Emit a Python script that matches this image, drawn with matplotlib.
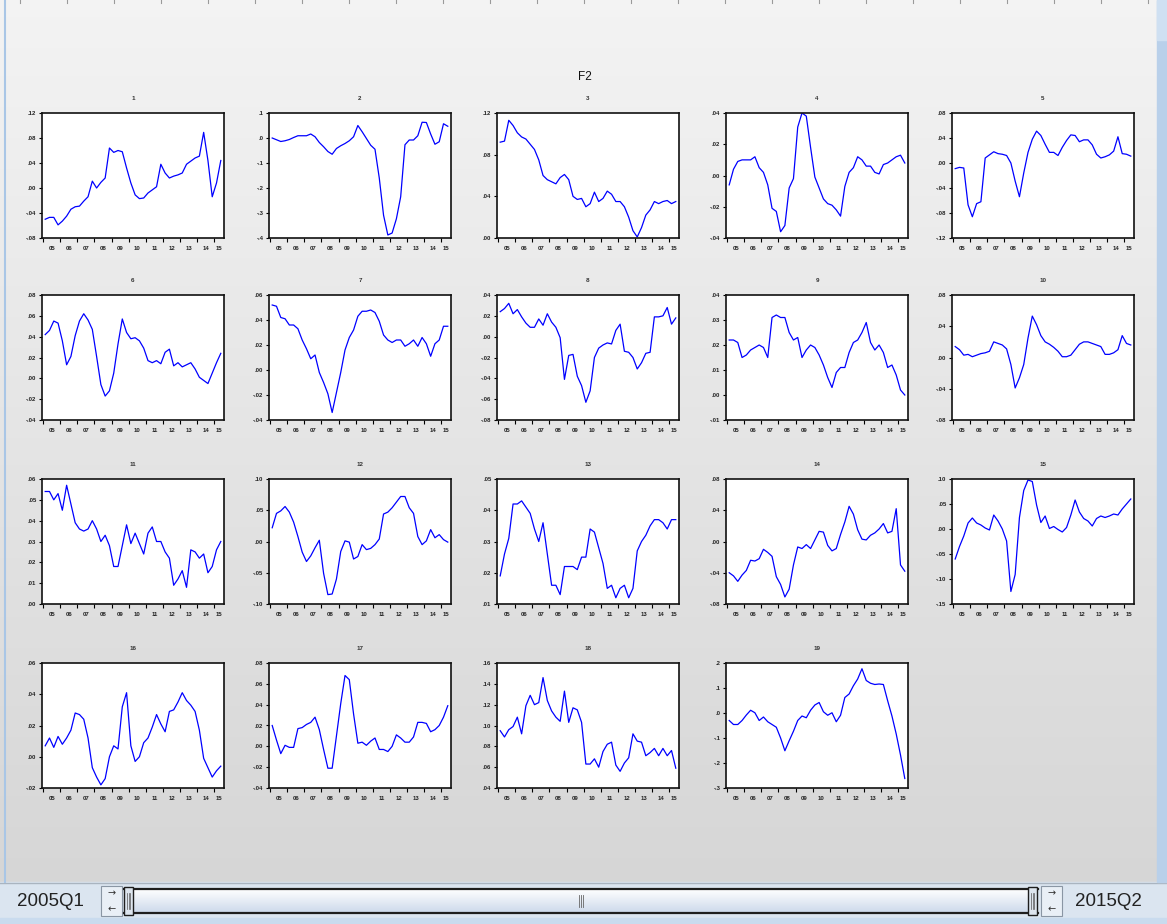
import numpy as np
import matplotlib
matplotlib.use("Agg")
import matplotlib.pyplot as plt
from matplotlib.patches import Rectangle

# Quarterly observations 2005Q1 .. 2015Q2 (42 quarters) for each F2 component
years = ["05", "06", "07", "08", "09", "10", "11", "12", "13", "14", "15"]
sample_start = "2005Q1"
sample_end = "2015Q2"
panel_titles = [str(k) for k in range(1, 20)]

f2_1 = [-.050, -.047, -.047, -.059, -.053, -.045, -.034, -.030, -.029, -.021, -.014, .011, .000, .009,
        .016, .064, .057, .060, .058, .032, .008, -.011, -.017, -.016, -.008, -.003, .002, .038,
        .024, .016, .019, .021, .024, .038, .043, .048, .051, .089, .044, -.014, .008, .044]
f2_2 = [.000, -.007, -.014, -.011, -.006, .002, .009, .009, .009, .016, .005, -.018, -.035, -.054,
        -.065, -.042, -.031, -.022, -.011, .005, .050, .025, -.002, -.029, -.045, -.160, -.309, -.388,
        -.380, -.323, -.235, -.027, -.008, -.008, .009, .063, .062, .016, -.025, -.015, .057, .047]
f2_3 = [.092, .093, .113, .108, .101, .097, .095, .090, .085, .075, .060, .056, .054, .052,
        .058, .061, .056, .040, .037, .038, .030, .033, .044, .035, .038, .045, .042, .035,
        .035, .030, .020, .007, .001, .010, .022, .027, .035, .033, .035, .036, .033, .035]
f2_4 = [-.006, .004, .009, .010, .010, .010, .012, .005, .002, -.006, -.021, -.023, -.036, -.032,
        -.008, -.002, .031, .040, .038, .018, -.001, -.008, -.015, -.018, -.019, -.022, -.026, -.007,
        .002, .005, .012, .010, .006, .006, .002, .001, .007, .008, .010, .012, .013, .008]
f2_5 = [-.009, -.007, -.008, -.067, -.086, -.065, -.062, .008, .013, .018, .015, .014, .012, .000,
        -.029, -.054, -.016, .017, .038, .051, .044, .030, .017, .017, .012, .025, .036, .045,
        .044, .034, .037, .037, .029, .014, .008, .010, .013, .019, .042, .015, .014, .011]
f2_6 = [.042, .046, .055, .053, .036, .013, .021, .041, .055, .062, .056, .047, .021, -.006,
        -.017, -.012, .005, .033, .057, .044, .038, .039, .036, .029, .017, .015, .017, .014,
        .025, .028, .012, .015, .011, .013, .015, .009, .001, -.002, -.005, .005, .015, .024]
f2_7 = [.052, .051, .042, .041, .036, .036, .033, .024, .017, .009, .012, -.002, -.010, -.019,
        -.034, -.018, -.002, .016, .026, .032, .043, .047, .047, .048, .046, .039, .028, .024,
        .022, .024, .024, .019, .021, .024, .019, .026, .021, .011, .021, .024, .035, .035]
f2_8 = [.024, .027, .032, .022, .026, .019, .013, .009, .009, .017, .011, .022, .014, .009,
        -.001, -.041, -.018, -.017, -.038, -.047, -.063, -.052, -.020, -.011, -.008, -.006, -.007, .006,
        .012, -.014, -.015, -.020, -.031, -.025, -.016, -.015, .019, .019, .020, .028, .012, .018]
f2_9 = [.022, .022, .021, .015, .016, .018, .019, .020, .019, .015, .031, .032, .031, .031,
        .025, .022, .023, .015, .018, .020, .019, .016, .012, .007, .003, .009, .011, .011,
        .017, .021, .022, .025, .029, .021, .018, .020, .017, .011, .012, .008, .002, .000]
f2_10 = [.014, .010, .003, .004, .001, .003, .005, .006, .008, .020, .018, .016, .011, -.009,
         -.039, -.026, -.009, .025, .053, .042, .028, .020, .017, .013, .008, .001, .001, .003,
         .010, .017, .020, .020, .018, .016, .014, .004, .004, .006, .010, .028, .018, .016]
f2_11 = [.054, .054, .050, .053, .045, .057, .048, .039, .036, .035, .036, .040, .036, .030,
         .033, .028, .018, .018, .028, .038, .029, .034, .029, .024, .034, .037, .030, .030,
         .025, .022, .009, .012, .016, .008, .026, .025, .022, .024, .015, .018, .026, .030]
f2_12 = [.022, .045, .049, .056, .047, .031, .008, -.017, -.032, -.023, -.010, .002, -.051, -.085,
         -.084, -.060, -.016, .001, -.001, -.028, -.024, -.005, -.013, -.011, -.005, .004, .044, .047,
         .054, .063, .072, .072, .054, .045, .008, -.005, .001, .019, .006, .011, .003, -.001]
f2_13 = [.019, .026, .031, .042, .042, .043, .041, .039, .034, .030, .036, .026, .016, .016,
         .013, .022, .022, .022, .021, .025, .025, .034, .033, .028, .023, .015, .016, .012,
         .015, .016, .012, .015, .027, .030, .032, .035, .037, .037, .036, .034, .037, .037]
f2_14 = [-.040, -.044, -.051, -.043, -.037, -.024, -.025, -.022, -.010, -.014, -.019, -.045, -.055, -.071,
         -.061, -.030, -.007, -.009, -.004, -.009, .002, .013, .012, -.005, -.012, -.009, .009, .025,
         .045, .035, .015, .003, .002, .008, .011, .016, .023, .011, .013, .042, -.030, -.038]
f2_15 = [-.060, -.035, -.014, .012, .022, .012, .008, .002, -.002, .028, .016, .000, -.024, -.125,
         -.091, .023, .077, .098, .095, .048, .013, .026, .001, .005, -.001, -.006, .003, .028,
         .058, .034, .021, .016, .006, .021, .026, .023, .026, .030, .028, .040, .050, .060]
f2_16 = [.007, .012, .006, .013, .008, .012, .017, .028, .027, .024, .012, -.007, -.013, -.018,
         -.014, .000, .007, .005, .032, .041, .007, -.003, .000, .009, .012, .019, .027, .021,
         .016, .029, .030, .035, .041, .036, .033, .029, .017, -.001, -.007, -.013, -.009, -.006]
f2_17 = [.020, .006, -.007, .001, -.001, -.001, .017, .018, .021, .023, .028, .016, -.003, -.021,
         -.021, .010, .041, .068, .064, .031, .003, .004, .001, .005, .008, -.003, -.003, -.005,
         .000, .011, .008, .004, .004, .009, .023, .023, .022, .014, .016, .020, .028, .039]
f2_18 = [.095, .089, .096, .099, .108, .092, .119, .129, .120, .122, .146, .124, .114, .108,
         .104, .133, .103, .117, .115, .103, .063, .063, .068, .060, .075, .082, .084, .062,
         .056, .064, .069, .092, .085, .084, .071, .074, .078, .071, .078, .071, .076, .059]
f2_19 = [-.030, -.046, -.046, -.030, -.008, .011, .001, -.030, -.016, -.035, -.046, -.057, -.100, -.151,
         -.111, -.073, -.030, -.012, -.019, .011, .032, .042, .005, -.009, .001, -.035, -.009, .062,
         .076, .109, .136, .177, .130, .119, .114, .116, .114, .049, -.012, -.084, -.168, -.262]

series = [f2_1, f2_2, f2_3, f2_4, f2_5, f2_6, f2_7, f2_8, f2_9, f2_10,
          f2_11, f2_12, f2_13, f2_14, f2_15, f2_16, f2_17, f2_18, f2_19]

# value-axis scale of each panel: (low, high, step, decimals)
y_scales = [(-.08, .12, .04, 2), (-.4, .1, .1, 1), (0.0, .12, .04, 2), (-.04, .04, .02, 2),
            (-.12, .08, .04, 2), (-.04, .08, .02, 2), (-.04, .06, .02, 2), (-.08, .04, .02, 2),
            (-.01, .04, .01, 2), (-.08, .08, .04, 2), (0.0, .06, .01, 2), (-.10, .10, .05, 2),
            (.01, .05, .01, 2), (-.08, .08, .04, 2), (-.15, .10, .05, 2), (-.02, .06, .02, 2),
            (-.04, .08, .02, 2), (.04, .16, .02, 2), (-.3, .2, .1, 1)]

W, H = 1167, 924
fig = plt.figure(figsize=(W / 100, H / 100), dpi=100)

# ---- window background ----
bg = fig.add_axes([0, 0, 1, 1])
bg.set_xlim(0, W)
bg.set_ylim(H, 0)
bg.axis("off")
grad = np.linspace(0, 1, 256)[:, None]
top_c = np.array([0.955, 0.955, 0.955])
bot_c = np.array([0.840, 0.840, 0.840])
img = top_c + (bot_c - top_c) * grad[..., None]
img = np.repeat(img, 2, axis=1)
bg.imshow(img, extent=(0, W, 882, 0), aspect="auto", zorder=0)
bg.add_patch(Rectangle((0, 882), W, H - 882, color="#dbe5f0", zorder=1))
bg.add_patch(Rectangle((0, 918), W, H - 918, color="#c9dbee", zorder=1))
bg.plot([0, W], [882.5, 882.5], color="#a9b4c0", lw=1.0, zorder=2)
bg.plot([5, 5], [0, 882], color="#a9c6e6", lw=1.5, zorder=2)
bg.add_patch(Rectangle((1157, 0), W - 1157, 882, color="#b9d0ea", zorder=2))
bg.add_patch(Rectangle((1157, 0), W - 1157, 40, color="#cfe0f2", zorder=2))

# top ruler marks
for xm in np.arange(20, 1150, 47):
    bg.plot([xm, xm], [0, 3], color="#9a9a9a", lw=0.8, zorder=2)

# ---- sample scroll bar ----
narrow = ["Liberation Sans Narrow", "Liberation Sans", "DejaVu Sans"]
bg.text(50, 901, sample_start, ha="center", va="center", fontsize=13.5,
        family=narrow, color="#222222", zorder=5)
bg.text(1108, 901, sample_end, ha="center", va="center", fontsize=13.5,
        family=narrow, color="#222222", zorder=5)
for bx in (101, 1041):
    bg.add_patch(Rectangle((bx, 886), 21, 30, facecolor="#e9eff6", edgecolor="#8a96a4",
                           lw=0.8, zorder=3))
    bg.text(bx + 10.5, 893, "\u2192", ha="center", va="center", fontsize=7, color="#333333", zorder=5)
    bg.text(bx + 10.5, 909, "\u2190", ha="center", va="center", fontsize=7, color="#333333", zorder=5)
track = np.linspace(0, 1, 64)[:, None]
t_img = np.array([1.0, 1.0, 1.0]) + (np.array([0.80, 0.85, 0.92]) - 1.0) * track[..., None]
t_img = np.repeat(t_img, 2, axis=1)
bg.imshow(t_img, extent=(124, 1038, 913, 889), aspect="auto", zorder=3)
bg.plot([124, 1038], [889, 889], color="#1e1e1e", lw=1.6, zorder=4)
bg.plot([124, 1038], [913, 913], color="#1e1e1e", lw=1.6, zorder=4)
for hx in (124, 1028):
    bg.add_patch(Rectangle((hx, 887), 9, 28, facecolor="#dde5ee", edgecolor="#1e1e1e",
                           lw=1.0, zorder=5))
    for gx in (hx + 3, hx + 4.5, hx + 6):
        bg.plot([gx, gx], [893, 909], color="#555555", lw=0.5, zorder=6)
for gx in (579, 581, 583):
    bg.plot([gx, gx], [895, 907], color="#666666", lw=0.6, zorder=5)

# ---- overall title ----
fig.text(585 / W, 1 - 77 / H, "F2", ha="center", va="center", fontsize=8.5,
         family="Liberation Sans", color="#111111")

# ---- panel grid ----
col_left = [42, 269, 497, 726, 952]
row_top = [113, 295, 479, 663]
pw, ph = 182, 125
n = len(f2_1)
x = np.arange(n)
tick_pos = np.arange(-0.5, n - 1, 4)
label_pos = [min(4 * k + 1.5, (4 * k - 0.5 + n - 0.5) / 2) for k in range(len(years))]


def fmt(v, d):
    if abs(v) < 1e-9:
        v = 0.0
    s = f"{v:.{d}f}"
    return s.replace("0.", ".", 1)


for idx, (vals, (lo, hi, step, dec)) in enumerate(zip(series, y_scales)):
    r, c = divmod(idx, 5)
    left, top = col_left[c], row_top[r]
    ax = fig.add_axes([left / W, 1 - (top + ph) / H, pw / W, ph / H])
    ax.set_facecolor("white")
    ax.plot(x, vals, color="#0000ff", lw=0.9)
    ax.set_xlim(-0.75, n - 0.25)
    ax.set_ylim(lo, hi)
    yt = np.round(np.arange(lo, hi + step / 2, step), 6)
    ax.set_yticks(yt)
    ax.set_yticklabels([fmt(v, dec) for v in yt], fontsize=4.3, family="Liberation Sans",
                       fontweight="bold", color="#222222")
    ax.set_xticks(tick_pos)
    ax.set_xticklabels([])
    ax.tick_params(axis="y", direction="out", length=2.5, width=0.8, pad=1.5)
    ax.tick_params(axis="x", direction="out", length=3, width=0.8)
    for lp, yr in zip(label_pos, years):
        ax.text(lp, -10 / ph, yr, transform=ax.get_xaxis_transform(), ha="center", va="center",
                fontsize=4.3, family="Liberation Sans", fontweight="bold", color="#222222")
    for sp in ax.spines.values():
        sp.set_linewidth(1.2)
        sp.set_color("#111111")
    ax.text(0.5, 1 + 14.5 / ph, panel_titles[idx], transform=ax.transAxes, ha="center",
            va="center", fontsize=4.5, family="Liberation Sans", fontweight="bold", color="#333333")

fig.savefig("out.png", dpi=100)
